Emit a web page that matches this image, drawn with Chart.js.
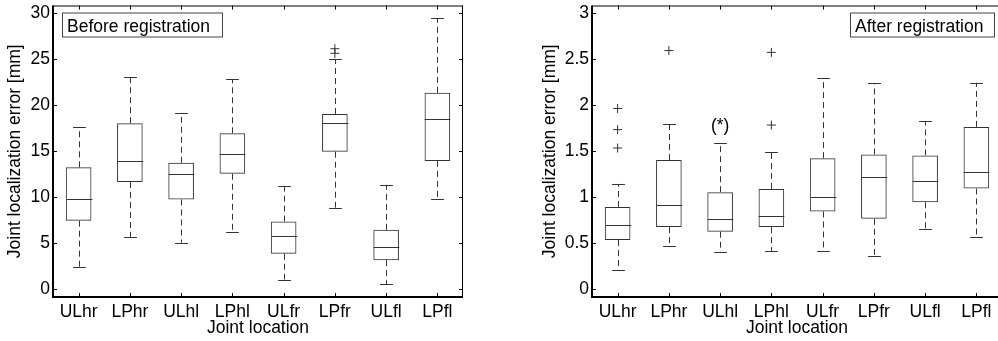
<!DOCTYPE html>
<html>
<head>
<meta charset="utf-8">
<script src="https://cdn.jsdelivr.net/npm/chart.js@4.4.1/dist/chart.umd.min.js"></script>
<style>
html, body { margin: 0; padding: 0; background: #fff; overflow: hidden; }
body { width: 998px; height: 341px; position: relative; }
canvas { position: absolute; top: 0; }
#chartBefore { left: 0; }
#chartAfter { left: 500px; }
</style>
</head>
<body>
<canvas id="chartBefore" width="500" height="341"></canvas>
<canvas id="chartAfter" width="510" height="341"></canvas>
<script>
const joints = ['ULhr', 'LPhr', 'ULhl', 'LPhl', 'ULfr', 'LPfr', 'ULfl', 'LPfl'];

// before registration [mm]
const beforeLow  = [2.4, 5.6, 5.0, 6.2, 1.0, 8.8, 0.5, 9.8];
const beforeQ1   = [7.4, 11.6, 9.7, 12.5, 3.8, 14.9, 3.1, 13.9];
const beforeMed  = [9.8, 13.9, 12.5, 14.7, 5.7, 18.0, 4.5, 18.5];
const beforeQ3   = [13.2, 18.0, 13.7, 16.9, 7.3, 19.0, 6.4, 21.3];
const beforeHigh = [17.6, 23.0, 19.1, 22.8, 11.2, 25.0, 11.3, 29.4];
const beforeOutliers = [[], [], [], [], [], [25.6, 26.1], [], []];
const beforeTicks = [0, 5, 10, 15, 20, 25, 30];

// after registration [mm]
const afterLow  = [0.2, 0.47, 0.40, 0.41, 0.41, 0.36, 0.65, 0.56];
const afterQ1   = [0.53, 0.67, 0.62, 0.67, 0.84, 0.76, 0.94, 1.09];
const afterMed  = [0.69, 0.91, 0.755, 0.79, 1.0, 1.21, 1.175, 1.27];
const afterQ3   = [0.89, 1.40, 1.05, 1.085, 1.42, 1.46, 1.45, 1.76];
const afterHigh = [1.14, 1.79, 1.58, 1.49, 2.29, 2.235, 1.825, 2.24];
const afterOutliers = [[1.53, 1.73, 1.96], [2.59], [], [1.78, 2.57], [], [], [], []];
const afterTicks = [0, 0.5, 1, 1.5, 2, 2.5, 3];
const afterNotes = [{ joint: 'ULhl', y: 1.77, text: '(*)' }];

const FONT = '"Liberation Sans", Arial, Helvetica, sans-serif';
const INK = '#333';
Chart.defaults.font.family = FONT;
Chart.defaults.font.size = 17.5;
Chart.defaults.color = '#000';

function whiskerPlugin(low, med, high, q1, q3, notes) {
    return {
        id: 'whiskers',
        afterDatasetsDraw(chart) {
            const { ctx, scales: { x, y } } = chart;
            const slot = x.getPixelForValue(1) - x.getPixelForValue(0);
            const boxHalf = slot * 0.25, capHalf = slot * 0.125;
            ctx.save();
            ctx.strokeStyle = INK;
            ctx.lineWidth = 1;
            low.forEach((lo, i) => {
                const cx = Math.round(x.getPixelForValue(i)) + 0.5;
                const yLo = y.getPixelForValue(lo), yHi = y.getPixelForValue(high[i]);
                const yQ1 = y.getPixelForValue(q1[i]), yQ3 = y.getPixelForValue(q3[i]);
                const yMed = Math.round(y.getPixelForValue(med[i])) + 0.5;
                ctx.setLineDash([6, 4]);
                ctx.beginPath();
                ctx.moveTo(cx, yQ3); ctx.lineTo(cx, yHi);
                ctx.moveTo(cx, yQ1); ctx.lineTo(cx, yLo);
                ctx.stroke();
                ctx.setLineDash([]);
                ctx.beginPath();
                ctx.moveTo(cx - capHalf, Math.round(yHi) + 0.5); ctx.lineTo(cx + capHalf, Math.round(yHi) + 0.5);
                ctx.moveTo(cx - capHalf, Math.round(yLo) + 0.5); ctx.lineTo(cx + capHalf, Math.round(yLo) + 0.5);
                ctx.moveTo(cx - boxHalf, yMed); ctx.lineTo(cx + boxHalf, yMed);
                ctx.stroke();
            });
            ctx.fillStyle = '#000';
            ctx.font = '17.5px ' + FONT;
            ctx.textAlign = 'center';
            ctx.textBaseline = 'middle';
            (notes || []).forEach(n => {
                ctx.fillText(n.text, x.getPixelForValue(joints.indexOf(n.joint)), y.getPixelForValue(n.y));
            });
            ctx.restore();
        }
    };
}

function framePlugin(yTicks, tag) {
    return {
        id: 'frame',
        afterDraw(chart) {
            const { ctx, chartArea: a, scales: { x, y } } = chart;
            ctx.save();
            ctx.strokeStyle = '#000';
            ctx.lineWidth = 1;
            ctx.beginPath();
            ctx.moveTo(a.left, a.top + 0.5); ctx.lineTo(a.right, a.top + 0.5);
            ctx.moveTo(a.right - 0.5, a.top); ctx.lineTo(a.right - 0.5, a.bottom);
            x.ticks.forEach((t, i) => {
                const px = Math.round(x.getPixelForTick(i)) + 0.5;
                ctx.moveTo(px, a.top); ctx.lineTo(px, a.top + 4);
                ctx.moveTo(px, a.bottom); ctx.lineTo(px, a.bottom - 4);
            });
            yTicks.forEach(v => {
                const py = Math.round(y.getPixelForValue(v)) + 0.5;
                ctx.moveTo(a.left, py); ctx.lineTo(a.left + 4, py);
                ctx.moveTo(a.right, py); ctx.lineTo(a.right - 4, py);
            });
            ctx.stroke();
            ctx.lineWidth = 2;
            ctx.beginPath();
            ctx.moveTo(a.left, a.top);
            ctx.lineTo(a.left, a.bottom);
            ctx.lineTo(a.right, a.bottom);
            ctx.stroke();

            // label box
            ctx.font = '17.5px ' + FONT;
            const bx = tag.side === 'left' ? a.left + 9 : a.right - 8 - tag.width;
            const by = a.top + 7;
            ctx.fillStyle = '#fff';
            ctx.fillRect(bx, by, tag.width, 24);
            ctx.strokeStyle = '#444';
            ctx.lineWidth = 1;
            ctx.strokeRect(Math.round(bx) + 0.5, by + 0.5, tag.width, 24);
            ctx.fillStyle = '#000';
            ctx.textAlign = 'left';
            ctx.textBaseline = 'alphabetic';
            ctx.fillText(tag.text, bx + 5, by + 19.5);
            ctx.restore();
        }
    };
}

function boxChart(canvasId, s, opt) {
    const outlierPts = [];
    s.outliers.forEach((list, i) => list.forEach(v => outlierPts.push({ x: joints[i], y: v })));
    new Chart(document.getElementById(canvasId), {
        type: 'bar',
        data: {
            labels: joints,
            datasets: [{
                data: s.q1.map((q, i) => [q, s.q3[i]]),
                backgroundColor: 'rgba(255,255,255,0)',
                borderColor: INK,
                borderWidth: 1,
                borderSkipped: false,
                barPercentage: 0.5,
                categoryPercentage: 1
            }, {
                type: 'scatter',
                data: outlierPts,
                pointStyle: 'cross',
                pointRadius: 4.5,
                borderColor: INK,
                borderWidth: 1
            }]
        },
        options: {
            responsive: false,
            animation: false,
            layout: { padding: { top: 3, bottom: 0, left: opt.padLeft, right: opt.padRight } },
            plugins: { legend: { display: false }, tooltip: { enabled: false } },
            scales: {
                x: {
                    grid: { display: false, drawTicks: false },
                    border: { display: false },
                    ticks: { padding: 5, autoSkip: false, maxRotation: 0 },
                    title: { display: true, text: 'Joint location', padding: { top: 0, bottom: 2 } },
                    afterFit: sc => { sc.height = 44; sc.paddingLeft = 0; sc.paddingRight = 0; }
                },
                y: {
                    min: opt.min,
                    max: opt.max,
                    grid: { display: false, drawTicks: false },
                    border: { display: false },
                    afterBuildTicks: sc => { sc.ticks = opt.ticks.map(v => ({ value: v })); },
                    ticks: { padding: 3, callback: v => String(v) },
                    title: { display: true, text: 'Joint localization error [mm]', padding: { top: 5, bottom: 0 } },
                    afterFit: sc => { sc.width = opt.yWidth; sc.paddingTop = 0; sc.paddingBottom = 0; }
                }
            }
        },
        plugins: [whiskerPlugin(s.low, s.med, s.high, s.q1, s.q3, opt.notes), framePlugin(opt.ticks, opt.tag)]
    });
}

boxChart('chartBefore',
    { low: beforeLow, q1: beforeQ1, med: beforeMed, q3: beforeQ3, high: beforeHigh, outliers: beforeOutliers },
    { min: -0.9, max: 30.8, ticks: beforeTicks, padLeft: 0, padRight: 37, yWidth: 53,
      tag: { text: 'Before registration', side: 'left', width: 160 } });

boxChart('chartAfter',
    { low: afterLow, q1: afterQ1, med: afterMed, q3: afterQ3, high: afterHigh, outliers: afterOutliers },
    { min: -0.09, max: 3.08, ticks: afterTicks, padLeft: 35, padRight: 8, yWidth: 57, notes: afterNotes,
      tag: { text: 'After registration', side: 'right', width: 144 } });
</script>
</body>
</html>
